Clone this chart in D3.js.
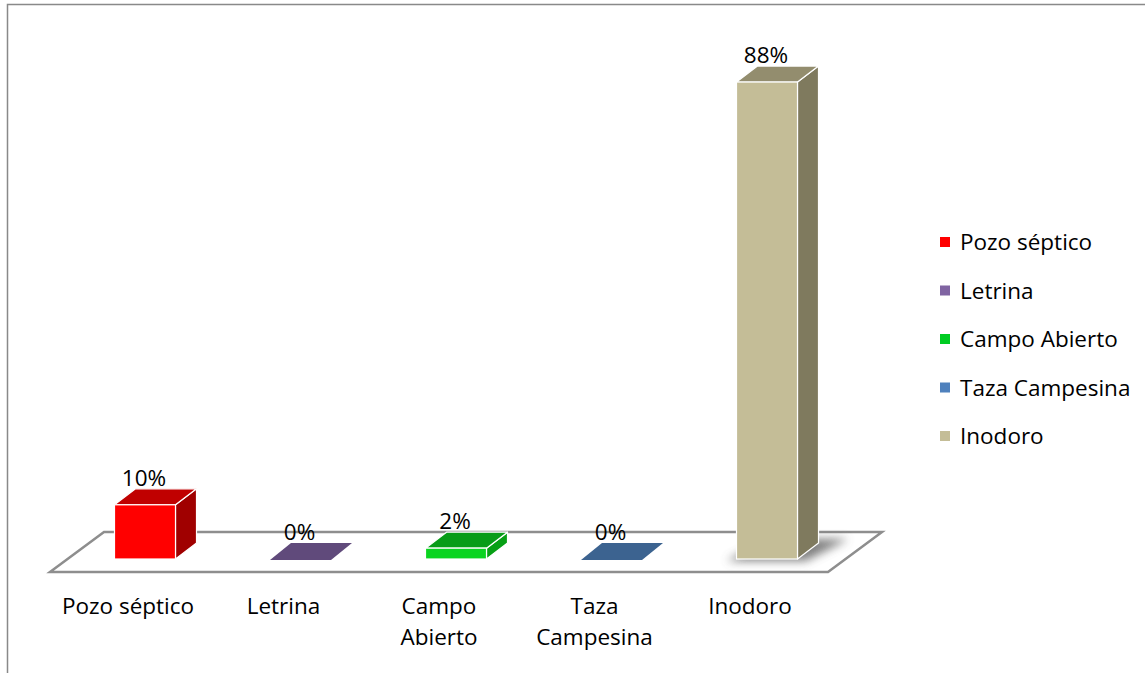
<!DOCTYPE html>
<html><head><meta charset="utf-8">
<script src="https://cdn.jsdelivr.net/npm/d3@7"></script>
<style>
html,body{margin:0;padding:0;background:#fff;}
svg{display:block;font-family:"Open Sans", "Noto Sans", sans-serif;}
</style></head>
<body>
<script>
const categories = ["Pozo séptico","Letrina","Campo Abierto","Taza Campesina","Inodoro"];
const axisLabels = [["Pozo séptico"],["Letrina"],["Campo","Abierto"],["Taza","Campesina"],["Inodoro"]];
const values = [10, 0, 2, 0, 88];
const valueLabels = ["10%","0%","2%","0%","88%"];
const frontColors = ["#FF0000","#8064A2","#0AD420","#4F81BD","#C4BD97"];
const topColors   = ["#C00000","#604A7B","#089C18","#3C6390","#938D6E"];
const sideColors  = ["#A00000","#504070","#07A015","#2F5080","#7F7A5E"];
const legendColors = ["#FF0000","#8064A2","#00CC22","#4F81BD","#C4BD97"];

const W = 1145, H = 673;
const FS = 22.5;
const svg = d3.select("body").append("svg").attr("width", W).attr("height", H);

// frame
svg.append("path").attr("d", `M7.5,${H} V4.5 H${W}`).attr("fill","none").attr("stroke","#898989").attr("stroke-width",1.5);

const x = d3.scalePoint().domain(categories).range([145, 767]);
const y = d3.scaleLinear().domain([0, 100]).range([559, 17]);
const bw = 61, dx = 21, dy = 16;

// floor
const fl = x(categories[0]) - 95, fr = x(categories[4]) + 61;
const ff = y(0) + 13, fb = y(0) - 27, fo = 54;
const defs = svg.append("defs");
const blur = defs.append("filter").attr("id","shadow").attr("x","-50%").attr("y","-50%").attr("width","200%").attr("height","200%");
blur.append("feGaussianBlur").attr("stdDeviation", 5);

svg.append("path")
  .attr("d", `M${fl},${ff} L${fr},${ff} L${fr+fo},${fb} L${fl+fo},${fb} Z`)
  .attr("fill","#fff").attr("stroke","#8e8e8e").attr("stroke-width",2.5).attr("stroke-linejoin","miter");

const g = svg.append("g");
categories.forEach((c, i) => {
  const v = values[i];
  const x0 = x(c) - bw/2, x1 = x0 + bw;
  const yb = y(0), yt = y(v);
  if (v > 0) {
    if (v > 50) {
      g.append("path")
        .attr("d", `M${x0-10},${yb+2} L${x1+8},${yb+2} L${x1+dx+30},${yb-dy-4} L${x0+dx+10},${yb-dy-4} Z`)
        .attr("fill","#555").attr("opacity",0.75).attr("filter","url(#shadow)");
    }
    g.append("path").attr("d", `M${x1},${yt} L${x1+dx},${yt-dy} L${x1+dx},${yb-dy} L${x1},${yb} Z`)
      .attr("fill", sideColors[i]).attr("stroke","#fff").attr("stroke-width",1.2).attr("stroke-linejoin","round");
    g.append("path").attr("d", `M${x0},${yt} L${x0+dx},${yt-dy} L${x1+dx},${yt-dy} L${x1},${yt} Z`)
      .attr("fill", topColors[i]).attr("stroke","#fff").attr("stroke-width",1.2).attr("stroke-linejoin","round");
    g.append("rect").attr("x", x0).attr("y", yt).attr("width", bw).attr("height", yb - yt)
      .attr("fill", frontColors[i]).attr("stroke","#fff").attr("stroke-width",1.2);
  } else {
    g.append("path").attr("d", `M${x0},${yb+1} L${x0+dx},${yb-dy} L${x1+dx},${yb-dy} L${x1},${yb+1} Z`)
      .attr("fill", topColors[i]);
  }
  g.append("text").attr("x", x(c) - 1).attr("y", yt - dy - 3)
    .attr("text-anchor","middle").attr("font-size",FS).attr("fill","#000").text(valueLabels[i]);
  const t = g.append("text").attr("text-anchor","middle").attr("font-size",FS).attr("fill","#000");
  axisLabels[i].forEach((line, k) => {
    t.append("tspan").attr("x", x(c) - 17).attr("y", 614 + k*31).text(line);
  });
});

// legend
const lg = svg.append("g").attr("transform","translate(940,242)");
categories.forEach((c, i) => {
  const r = lg.append("g").attr("transform", `translate(0,${i*48.5})`);
  r.append("rect").attr("x",0).attr("y",-5).attr("width",10).attr("height",10).attr("fill",legendColors[i]);
  r.append("text").attr("x",20).attr("y",8).attr("font-size",FS).attr("fill","#000").text(c);
});
</script>
</body></html>
